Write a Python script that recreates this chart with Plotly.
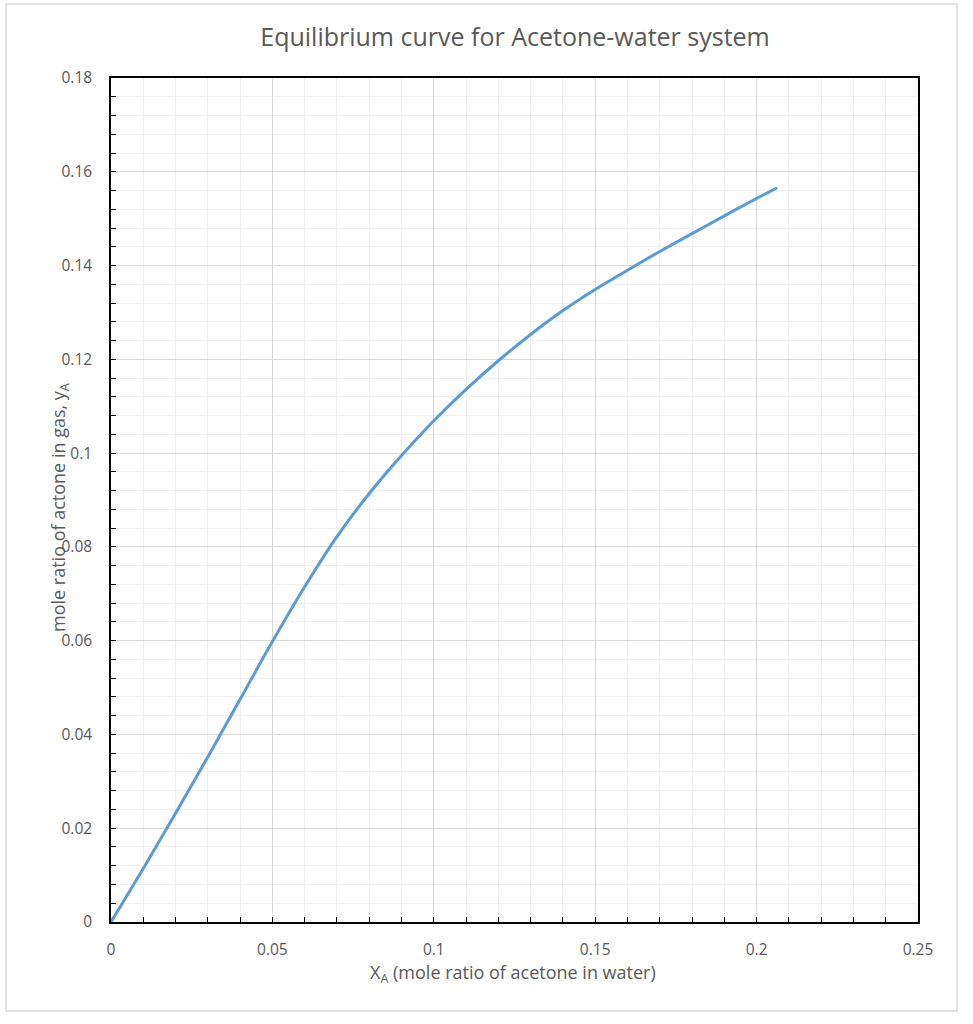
import plotly.graph_objects as go

# Data (mole ratios)
x_A = [0, 0.01, 0.02, 0.03, 0.04, 0.05, 0.06, 0.07, 0.08, 0.09, 0.10,
       0.11, 0.12, 0.13, 0.14, 0.15, 0.16, 0.17, 0.18, 0.19, 0.20, 0.2064]
y_A = [0, 0.0114, 0.0232, 0.0352, 0.0475, 0.0598, 0.0715, 0.0822, 0.0914, 0.0995, 0.1069,
       0.1136, 0.1197, 0.1253, 0.1304, 0.1349, 0.1390, 0.1430, 0.1468, 0.1506, 0.1543, 0.1566]

x_ticks = [0, 0.05, 0.1, 0.15, 0.2, 0.25]
x_labels = ["0", "0.05", "0.1", "0.15", "0.2", "0.25"]
y_ticks = [0, 0.02, 0.04, 0.06, 0.08, 0.1, 0.12, 0.14, 0.16, 0.18]
y_labels = ["0", "0.02", "0.04", "0.06", "0.08", "0.1", "0.12", "0.14", "0.16", "0.18"]

title_text = "Equilibrium curve for Acetone-water system"
x_title = "X<sub>A</sub> (mole ratio of acetone in water)"
y_title = "mole ratio of actone in gas, y<sub>A</sub>"

FONT = "Open Sans"
GRAY = "#595959"

fig = go.Figure()
fig.add_trace(go.Scatter(
    x=x_A, y=y_A, mode="lines",
    line=dict(color="#5B9BD5", width=3, shape="spline", smoothing=1.0),
    hoverinfo="x+y", showlegend=False,
))

axis_common = dict(
    showline=True, linecolor="black", linewidth=1.5, mirror=True,
    ticks="inside", ticklen=5, tickcolor="black", tickwidth=1.2,
    showgrid=True, gridcolor="#d9d9d9", gridwidth=1,
    zeroline=False,
    tickfont=dict(family=FONT, size=15.5, color=GRAY),
)

fig.update_xaxes(
    range=[0, 0.25], tickvals=x_ticks, ticktext=x_labels,
    minor=dict(dtick=0.01, showgrid=True, gridcolor="#f0f0f0", gridwidth=1,
               ticks="inside", ticklen=5, tickcolor="black", tickwidth=1.2),
    ticklabelstandoff=13,
    **axis_common,
)
fig.update_yaxes(
    range=[0, 0.18], tickvals=y_ticks, ticktext=y_labels,
    minor=dict(dtick=0.004, showgrid=True, gridcolor="#f0f0f0", gridwidth=1,
               ticks="inside", ticklen=5, tickcolor="black", tickwidth=1.2),
    ticklabelstandoff=14,
    **axis_common,
)

fig.update_layout(
    width=973, height=1024,
    margin=dict(l=111, r=55, t=78, b=102),
    paper_bgcolor="white", plot_bgcolor="white",
    font=dict(family=FONT, color=GRAY),
    title=dict(text=title_text, x=(262 + 768) / 2 / 973, xanchor="center",
               y=1 - 37 / 1024, yanchor="middle",
               font=dict(family=FONT, size=25, color=GRAY)),
    annotations=[
        dict(text=x_title, xref="paper", yref="paper", x=(513 - 111) / 807, y=(922 - 973) / 844,
             xanchor="center", yanchor="middle", showarrow=False,
             font=dict(family=FONT, size=18, color=GRAY)),
        dict(text=y_title, xref="paper", yref="paper", x=(59 - 111) / 807, y=(922 - 508) / 844,
             xanchor="center", yanchor="middle", textangle=-90, showarrow=False,
             font=dict(family=FONT, size=18, color=GRAY)),
    ],
    shapes=[
        dict(type="rect", xref="paper", yref="paper",
             x0=(6 - 111) / 807, x1=(957 - 111) / 807,
             y0=(922 - 1011) / 844, y1=(922 - 4) / 844,
             line=dict(color="#d9d9d9", width=1.5), layer="below"),
    ],
)

fig.write_html("out.html")
